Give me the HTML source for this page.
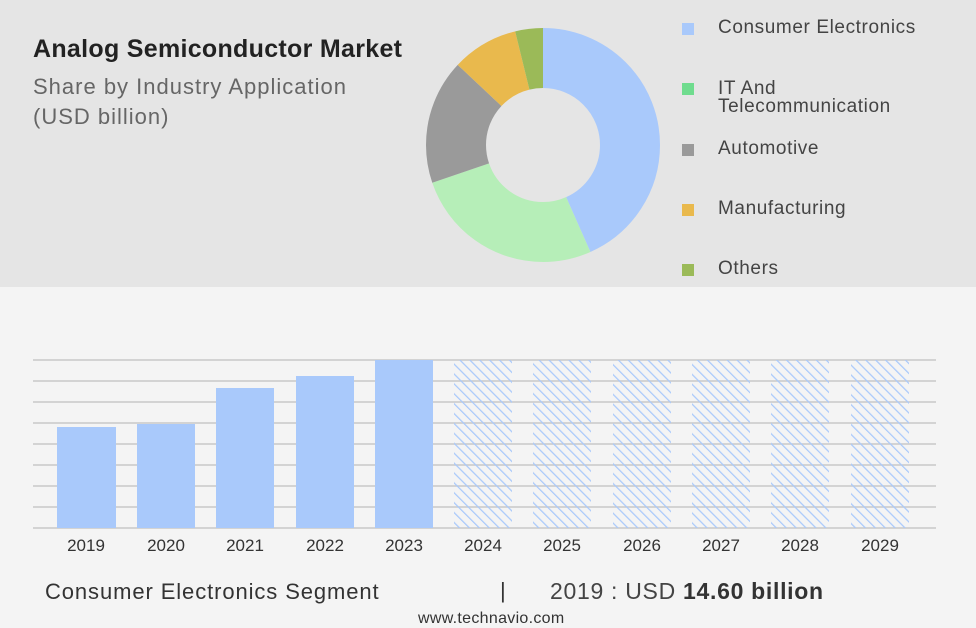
<!DOCTYPE html><html><head><meta charset="utf-8"><style>
body{margin:0;width:976px;height:628px;overflow:hidden;background:#f4f4f4;font-family:"Liberation Sans",sans-serif;position:relative}
.top{position:absolute;left:0;top:0;width:976px;height:287px;background:#e5e5e5}
.t{position:absolute;white-space:nowrap}
.leg{position:absolute;left:682px;width:12px;height:12px}
.lt{position:absolute;left:718px;font-size:19px;color:#444;line-height:18px;letter-spacing:0.6px}
.yr{position:absolute;top:536px;font-size:17px;color:#333;width:60px;text-align:center}
</style></head><body>
<div class="top"></div>
<div class="t" style="left:33px;top:35px;font-size:25px;font-weight:bold;color:#222;letter-spacing:0.3px">Analog Semiconductor Market</div>
<div class="t" style="left:33px;top:74px;font-size:22px;color:#666;letter-spacing:1px">Share by Industry Application</div>
<div class="t" style="left:33px;top:104px;font-size:22px;color:#666;letter-spacing:1px">(USD billion)</div>
<svg style="position:absolute;left:0;top:0" width="976" height="628">
<g transform="rotate(-90 543 145)" fill="none" stroke-width="60">
<circle cx="543" cy="145" r="87" stroke="#a9c9fb" stroke-dasharray="236.9 546.6"/>
<circle cx="543" cy="145" r="87" stroke="#b6eeb8" stroke-dasharray="144.3 546.6" stroke-dashoffset="-236.9"/>
<circle cx="543" cy="145" r="87" stroke="#9a9a9a" stroke-dasharray="94.2 546.6" stroke-dashoffset="-381.2"/>
<circle cx="543" cy="145" r="87" stroke="#e9b94d" stroke-dasharray="50.1 546.6" stroke-dashoffset="-475.4"/>
<circle cx="543" cy="145" r="87" stroke="#9bba58" stroke-dasharray="21.3 546.6" stroke-dashoffset="-525.5"/>
</g>
<defs><pattern id="h" width="7" height="7" patternUnits="userSpaceOnUse" patternTransform="rotate(-45)"><line x1="0" y1="0" x2="0" y2="7" stroke="#a9c9fb" stroke-width="2.5"/></pattern></defs>
<g stroke="#c8c8c8" stroke-width="1.5">
<line x1="33" y1="360" x2="936" y2="360"/><line x1="33" y1="381" x2="936" y2="381"/><line x1="33" y1="402" x2="936" y2="402"/><line x1="33" y1="423" x2="936" y2="423"/><line x1="33" y1="444" x2="936" y2="444"/><line x1="33" y1="465" x2="936" y2="465"/><line x1="33" y1="486" x2="936" y2="486"/><line x1="33" y1="507" x2="936" y2="507"/><line x1="33" y1="528" x2="936" y2="528"/>
</g>
<g fill="#a9c9fb">
<rect x="57" y="427" width="59" height="101"/><rect x="137" y="424" width="58" height="104"/><rect x="216" y="388" width="58" height="140"/><rect x="296" y="376" width="58" height="152"/><rect x="375" y="360" width="58" height="168"/>
</g>
<g fill="url(#h)">
<rect x="454" y="360" width="58" height="168"/><rect x="533" y="360" width="58" height="168"/><rect x="613" y="360" width="58" height="168"/><rect x="692" y="360" width="58" height="168"/><rect x="771" y="360" width="58" height="168"/><rect x="851" y="360" width="58" height="168"/>
</g>
</svg>
<div class="leg" style="top:23px;background:#a9c9fb"></div><div class="lt" style="top:19px">Consumer Electronics</div>
<div class="leg" style="top:83px;background:#6fdc8e"></div><div class="lt" style="top:80px">IT And<br>Telecommunication</div>
<div class="leg" style="top:144px;background:#9a9a9a"></div><div class="lt" style="top:140px">Automotive</div>
<div class="leg" style="top:204px;background:#e9b94d"></div><div class="lt" style="top:200px">Manufacturing</div>
<div class="leg" style="top:264px;background:#9bba58"></div><div class="lt" style="top:260px">Others</div>
<div class="yr" style="left:56px">2019</div><div class="yr" style="left:136px">2020</div><div class="yr" style="left:215px">2021</div><div class="yr" style="left:295px">2022</div><div class="yr" style="left:374px">2023</div><div class="yr" style="left:453px">2024</div><div class="yr" style="left:532px">2025</div><div class="yr" style="left:612px">2026</div><div class="yr" style="left:691px">2027</div><div class="yr" style="left:770px">2028</div><div class="yr" style="left:850px">2029</div>
<div class="t" style="left:45px;top:579px;font-size:22px;color:#333;letter-spacing:0.9px">Consumer Electronics Segment</div>
<div class="t" style="left:500px;top:578px;font-size:22px;color:#333">|</div>
<div class="t" style="left:550px;top:578px;font-size:23px;color:#444;letter-spacing:0.7px">2019 : USD <b style="color:#333">14.60 billion</b></div>
<div class="t" style="left:418px;top:610px;font-size:16px;color:#333;letter-spacing:0.3px">www.technavio.com</div>
</body></html>
